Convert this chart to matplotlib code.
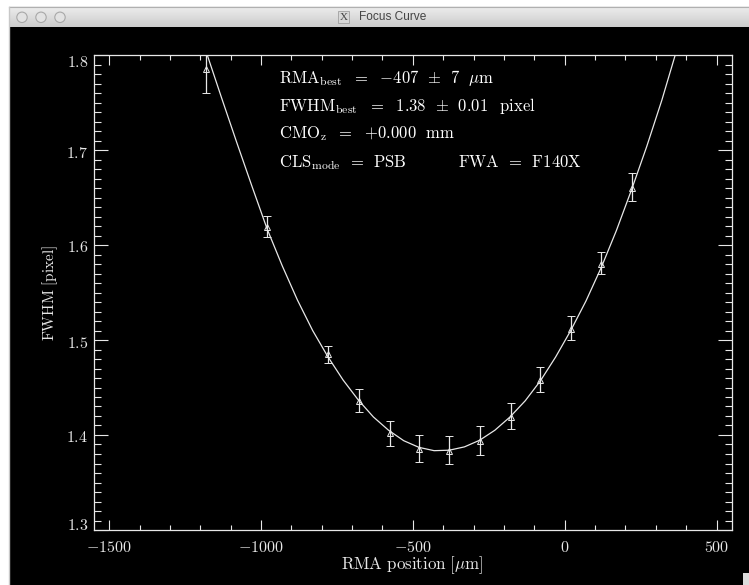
import numpy as np
import matplotlib
matplotlib.use('Agg')
import matplotlib.pyplot as plt
from matplotlib.patches import Circle, Rectangle
from matplotlib.ticker import MultipleLocator
from matplotlib.transforms import ScaledTranslation

# measured points
rma = [-1180, -981, -780, -678, -576, -479, -380, -278, -178, -80, 22, 120, 223]
fwhm = [1.785, 1.619, 1.485, 1.436, 1.402, 1.385, 1.3835, 1.394, 1.419, 1.458, 1.512, 1.580, 1.660]
err_low = [0.025, 0.011, 0.0095, 0.0115, 0.014, 0.0134, 0.014, 0.015, 0.013, 0.013, 0.0123, 0.011, 0.014]
err_high = [0.025, 0.012, 0.009, 0.012, 0.0127, 0.015, 0.0155, 0.016, 0.015, 0.014, 0.013, 0.013, 0.016]

# fitted curve
curve_x = [-1177, -1130, -1080, -1030, -980, -930, -880, -830, -780, -730, -680, -630, -580, -530,
           -480, -430, -380, -330, -280, -230, -180, -130, -80, -30, 20, 70, 120, 170, 220, 270, 320, 364]
curve_y = [1.800, 1.755, 1.708, 1.662, 1.617, 1.578, 1.542, 1.510, 1.4825, 1.458, 1.437, 1.419, 1.405, 1.394,
           1.387, 1.3835, 1.384, 1.3875, 1.3945, 1.405, 1.419, 1.436, 1.457, 1.482, 1.510, 1.541, 1.576, 1.615,
           1.658, 1.7035, 1.7525, 1.800]

x_ticks = [-1500, -1000, -500, 0, 500]
x_tick_labels = [r'$-1500$', r'$-1000$', r'$-500$', r'$0$', r'$500$']
y_ticks = [1.3, 1.4, 1.5, 1.6, 1.7, 1.8]
y_tick_labels = [r'$1.3$', r'$1.4$', r'$1.5$', r'$1.6$', r'$1.7$', r'$1.8$']

W, H = 749, 585
FG = '#e8e8e8'
plt.rcParams['mathtext.fontset'] = 'cm'
plt.rcParams['font.family'] = ['Liberation Sans', 'DejaVu Sans']

fig = plt.figure(figsize=(W / 100, H / 100), dpi=100, facecolor='white')

# window frame, in pixels
bg = fig.add_axes([0, 0, 1, 1], zorder=0)
bg.axis('off')
grad = np.linspace(0.93, 0.80, 40).reshape(-1, 1)
bg.imshow(grad, cmap='gray', vmin=0, vmax=1, extent=[9, W, 27, 6.5], aspect='auto')
bg.set_xlim(0, W)
bg.set_ylim(H, 0)
bg.add_patch(Rectangle((9, 27), W - 9, H - 27, color='black', lw=0))
bg.add_patch(Rectangle((742.5, 572.5), 7, 13, color='#dcdcdc', lw=0))
bg.plot([9, W], [6.5, 6.5], color='#b0b0b0', lw=0.8)
bg.plot([9, 9], [6.5, H], color='#c8c8c8', lw=1)
for cx in [22, 41, 60]:
    bg.add_patch(Circle((cx, 17.3), 5.2, facecolor='#e2e2e2', edgecolor='#a8a8a8', lw=0.8))
bg.add_patch(Rectangle((338, 11), 11, 12, facecolor='#d8d8d8', edgecolor='#a0a0a0', lw=0.6))
bg.text(343.5, 17.3, 'X', fontsize=8, family='Liberation Serif', color='#444444', ha='center', va='center')
bg.text(393, 17.3, 'Focus Curve', fontsize=8.6, color='#444444', ha='center', va='center')

ax = fig.add_axes([94 / W, 1 - 530 / H, (731.7 - 94) / W, (530 - 55) / H], facecolor='black', zorder=1)
ax.set_xlim(-1550, 550)
ax.set_ylim(1.3, 1.8)

ax.plot(curve_x, curve_y, color=FG, lw=0.9)
ax.errorbar(rma, fwhm, yerr=[err_low, err_high], fmt='^', ms=4.4, mfc='none', mec=FG, mew=0.7,
            ecolor=FG, elinewidth=0.9, capsize=3, capthick=0.9)

for s in ax.spines.values():
    s.set_color(FG)
    s.set_linewidth(0.9)
ax.xaxis.set_minor_locator(MultipleLocator(100))
ax.yaxis.set_minor_locator(MultipleLocator(0.01))
ax.set_xticks(x_ticks)
ax.set_xticklabels(x_tick_labels)
ax.set_yticks(y_ticks)
ax.set_yticklabels(y_tick_labels)
ax.tick_params(axis='x', which='major', direction='in', top=True, length=7, width=0.8, color=FG,
               labelcolor=FG, labelsize=11.5, pad=7)
ax.tick_params(axis='x', which='minor', direction='in', top=True, length=3.4, width=0.8, color=FG)
ax.tick_params(axis='y', which='major', direction='in', right=True, length=10, width=0.8, color=FG,
               labelcolor=FG, labelsize=11.5, pad=4)
ax.tick_params(axis='y', which='minor', direction='in', right=True, length=5, width=0.8, color=FG)

# end labels sit inside the axis range, the rest just under their tick
shift = ScaledTranslation(0, -1.5 / 100, fig.dpi_scale_trans)
shift_low = ScaledTranslation(0, -3.5 / 100, fig.dpi_scale_trans)
ylabs = ax.get_yticklabels()
for lbl in ylabs[1:-1]:
    lbl.set_transform(lbl.get_transform() + shift)
ylabs[0].set_va('bottom')
ylabs[0].set_transform(ylabs[0].get_transform() + shift_low)
ylabs[-1].set_va('top')

# overlay for free text, in pixels
top = fig.add_axes([0, 0, 1, 1], facecolor='none', zorder=2)
top.set_xlim(0, W)
top.set_ylim(H, 0)
top.axis('off')
top.text(412, 565, r'$\mathrm{RMA\ position\ [\mu m]}$', color=FG, fontsize=12.2, ha='center', va='center')
top.text(50, 292.5, r'$\mathrm{FWHM\ [pixel]}$', color=FG, fontsize=11, rotation=90, ha='center', va='center')

labels = [
    (279, 82.7, r'$\mathrm{RMA_{best}\ \ {=}\ \ {-}407\ \ {\pm}\ \ 7\ \ \mu m}$'),
    (279, 110.7, r'$\mathrm{FWHM_{best}\ \ {=}\ \ 1.38\ \ {\pm}\ \ 0.01\ \ \,pixel}$'),
    (279, 138.3, r'$\mathrm{CMO_{z}\ \ {=}\ \ {+}0.000\ \ mm}$'),
    (279, 166.7, r'$\mathrm{CLS_{mode}\ \,{=}\ \,PSB}$'),
    (458, 166.7, r'$\mathrm{FWA\ \,{=}\ \,F140X}$'),
]
for px, py, s in labels:
    top.text(px, py, s, color='white', fontsize=12, ha='left', va='baseline')

fig.savefig('out.png', dpi=100)
